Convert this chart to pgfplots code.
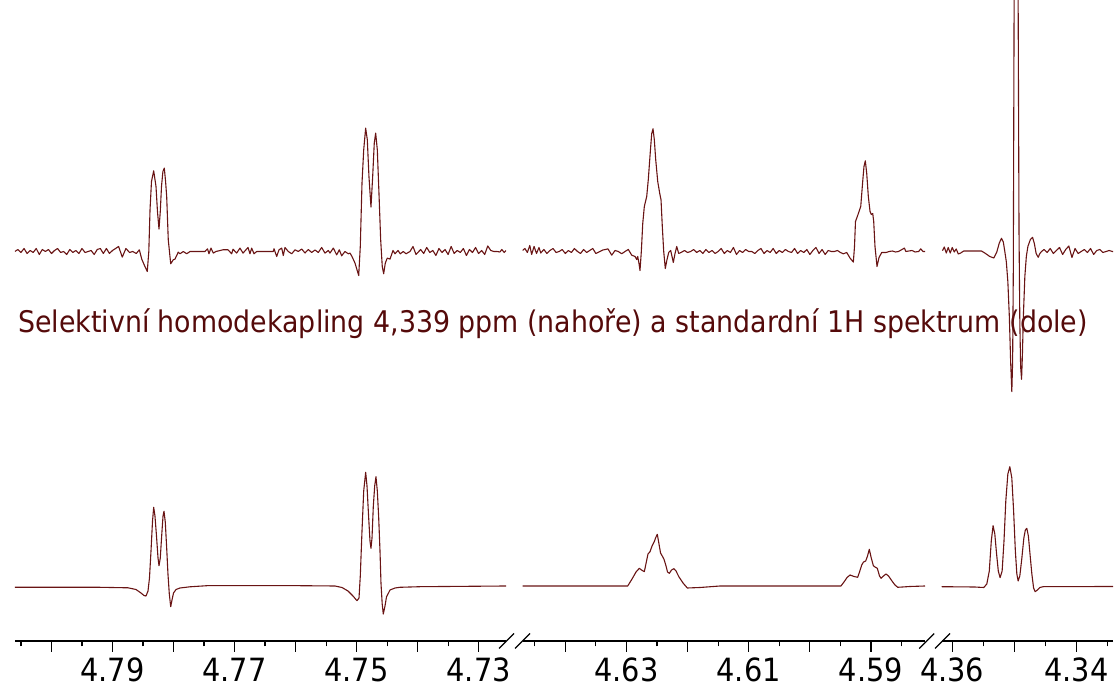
\documentclass[border=0pt]{standalone}
\usepackage{fontspec}
\setmainfont{DejaVu Sans}[FakeStretch=0.9]
\usepackage{pgfplots}
\pgfplotsset{compat=1.18}
\definecolor{spec}{RGB}{105,20,20}
\definecolor{titlecol}{RGB}{85,10,10}

\pgfplotsset{
  spec panel/.style={
    scale only axis, anchor=south west,
    height=641pt, ymin=-55, ymax=586,
    x dir=reverse,
    axis x line*=bottom, axis y line=none,
    tick align=outside,
    major tick length=11pt, minor tick length=5.5pt,
    tick style={black, line width=1.1pt},
    axis line style={black, line width=1.2pt},
    xticklabel style={font=\fontsize{32}{38}\selectfont, black, yshift=-5pt, inner sep=1pt},
    clip=true,
  },
  trace/.style={spec, line width=1.1pt, line join=round, mark=none},
}

\begin{document}
\begin{tikzpicture}
\useasboundingbox (0pt,0pt) rectangle (1115pt,692pt);

\node[anchor=base, text=titlecol, font=\fontsize{29.8}{35}\selectfont]
  at (553pt,359pt) {Selektivní homodekapling 4,339 ppm (nahoře) a standardní 1H spektrum (dole)};

% ---------- panel 1: 4.806 - 4.7255 ppm ----------
\begin{axis}[spec panel, at={(15pt,51pt)}, width=491pt,
  xmin=4.72551, xmax=4.80598,
  xtick={4.73,4.74,4.75,4.76,4.77,4.78,4.79,4.80},
  xticklabels={4.73,,4.75,,4.77,,4.79,},
  minor xtick={4.735,4.745,4.755,4.765,4.775,4.785,4.795,4.805}]
% top: decoupled
\addplot[trace] table[x index=0, y expr=\thisrowno{1}+334.5] {
4.8060 0
4.8055 2
4.8050 -1
4.8045 3
4.8040 -2
4.8035 1
4.8030 -1
4.8025 3
4.8020 -3
4.8015 2
4.8010 0
4.8005 2
4.8000 -2
4.7995 1
4.7990 3
4.7985 -1
4.7980 0
4.7975 -3
4.7970 2
4.7965 -1
4.7960 1
4.7955 -2
4.7950 3
4.7945 -1
4.7940 0
4.7935 1
4.7930 -3
4.7925 2
4.7920 3
4.7915 -2
4.7910 3
4.7905 -2
4.7900 1
4.7890 5
4.7884 -5.6
4.7878 3
4.7872 -1
4.7867 0
4.7861 -2
4.7856 1.7
4.78521 -7.6
4.78476 -14
4.78430 -20
4.78405 0
4.78385 41.7
4.78361 70
4.78325 80.7
4.78287 65
4.78263 40
4.78238 22.4
4.78217 40
4.78197 65
4.78174 80
4.78151 83.4
4.78130 70
4.78112 55
4.78086 11.7
4.78046 -12.3
4.78004 -8.3
4.77976 -7.6
4.77922 -0.6
4.77894 -2.3
4.77840 0
4.77784 -2.3
4.77730 0
4.77484 0
4.77443 2.7
4.77419 -2.3
4.77386 3.4
4.77348 -1.6
4.77304 0
4.77189 1.7
4.77107 1.7
4.77047 -2.3
4.77025 2.3
4.76965 -1.6
4.76911 3.4
4.76861 -1.6
4.76779 4
4.76747 -2.3
4.76719 3.4
4.76681 -2.3
4.76637 0
4.76365 0
4.76353 2.7
4.76309 -5
4.76271 1.7
4.76227 3.4
4.76201 -4
4.76173 4
4.76119 0
4.76063 -2.3
4.76009 1.7
4.75955 0
4.75899 2.5
4.75845 -1.5
4.75791 2
4.75736 -1
4.75681 1.5
4.75627 -1
4.75572 4
4.75518 -1.6
4.75463 1
4.75436 -1.6
4.75381 3.4
4.75326 -3.4
4.75283 1.7
4.75244 -4.3
4.75190 0
4.75136 -2.3
4.75108 -1.6
4.75075 -5
4.75026 -11.6
4.74993 -18.3
4.74965 -24
4.74939 5
4.74911 68.4
4.74883 101.7
4.74851 123.4
4.74824 111.7
4.74797 75
4.74764 44.4
4.74736 75
4.74710 108.4
4.74687 118.4
4.74660 101.7
4.74633 58.4
4.74605 11.7
4.74579 -15
4.74556 -22.3
4.74529 -11.6
4.74497 -6.6
4.74452 -7.6
4.74403 1
4.74370 -2.3
4.74321 1
4.74284 -2.3
4.74234 0
4.74190 -2.3
4.74125 0
4.74075 5
4.74026 -3
4.7395 2
4.7390 -2
4.7385 4
4.7380 -1
4.7375 1
4.7370 -4
4.7365 3
4.7360 -1
4.7355 2
4.7350 -3
4.7345 5
4.7340 -2
4.7335 1
4.7330 -1
4.7325 3
4.7320 -4
4.7315 2
4.7310 -1
4.7305 4
4.7300 -2
4.7295 1
4.7290 -3
4.7285 5.5
4.7280 1
4.7275 0
4.7270 0
4.7265 -0.5
4.7262 2
4.7258 -1
4.72551 1
};
% bottom: standard 1H
\addplot[trace] table {
4.80598 -1.3
4.79205 -1.3
4.78746 -1.8
4.78615 -3.5
4.78533 -7
4.78484 -9.5
4.78451 -10
4.78418 -5
4.78394 8
4.78369 35
4.78344 65
4.78325 78.7
4.78304 70
4.78279 50
4.78254 28
4.78238 20.3
4.78217 28
4.78192 52
4.78172 70
4.78156 74.7
4.78135 64
4.78112 38
4.78091 12
4.78069 -8
4.78046 -20.7
4.78025 -14
4.78000 -7
4.77959 -3.5
4.77894 -2
4.77730 -0.8
4.77451 0.3
4.75927 0.3
4.75354 0
4.75239 -1.5
4.75141 -5
4.75059 -10
4.74993 -14.7
4.74960 -12
4.74939 10
4.74911 55
4.74883 95
4.74851 113.7
4.74829 100
4.74805 72
4.74780 45
4.74764 37.7
4.74747 48
4.74726 79.3
4.74703 100
4.74682 109.3
4.74660 95
4.74638 69.3
4.74616 35
4.74600 3
4.74580 -18
4.74562 -28
4.74534 -20
4.74510 -11
4.74452 -4
4.74370 -2
4.74288 -1.3
4.73961 -0.7
4.72551 0
};
\end{axis}

% ---------- panel 2: 4.647 - 4.581 ppm ----------
\begin{axis}[spec panel, at={(522.7pt,51pt)}, width=402.3pt,
  xmin=4.58117, xmax=4.64696,
  xtick={4.59,4.60,4.61,4.62,4.63,4.64},
  xticklabels={4.59,,4.61,,4.63,},
  minor xtick={4.585,4.595,4.605,4.615,4.625,4.635,4.645}]
\addplot[trace] table[x index=0, y expr=\thisrowno{1}+334.5] {
4.6470 1
4.6466 3
4.6462 -1
4.6458 6
4.6455 -3
4.6451 5
4.6447 -2
4.6443 4
4.6440 -1.5
4.6435 2
4.6430 -2
4.6425 1
4.6420 3
4.6415 -1
4.6410 0
4.6405 2
4.6400 -2
4.6395 1
4.6390 -1
4.6385 3
4.6380 0
4.6375 -2
4.6370 2
4.6365 -1
4.6360 1
4.6355 3
4.6350 -2
4.63432 0
4.63383 1.5
4.63301 2.6
4.63240 -3.7
4.63186 1
4.63132 0
4.63077 -2.3
4.63023 0
4.62969 2
4.62913 -3.7
4.62859 -5
4.62832 -8
4.62815 -5
4.62794 -12
4.62778 -19
4.62756 0
4.62733 28
4.62707 45
4.62668 55
4.62642 72
4.62609 100
4.62586 118
4.62565 122.7
4.62544 112
4.62521 92
4.62488 70
4.62455 58
4.62434 51.7
4.62413 25
4.62390 0
4.62364 -17
4.62336 -8
4.62308 -1
4.62276 1
4.62254 -5
4.62233 -11
4.62205 -2
4.62177 5
4.62145 -2
4.62107 -1
4.6205 1
4.6200 -1
4.6195 0
4.6190 2
4.6185 -1
4.6180 1
4.6175 -2
4.6170 2
4.6165 -1
4.6160 1
4.6155 -2
4.6150 0
4.6145 3
4.6140 -2
4.6135 1
4.6130 -1
4.6125 4
4.6120 -3
4.6115 1
4.6110 -1
4.6105 2
4.6100 0
4.6095 0
4.6090 -2
4.6085 1
4.6080 3
4.6075 -2
4.6070 1
4.6065 -1
4.6060 3
4.6055 -2
4.6050 1
4.6045 -1
4.6040 2
4.6035 0
4.6030 -1
4.6025 3
4.6020 -2
4.6015 1
4.6010 -1
4.6005 2
4.6000 -3
4.5995 1
4.5990 4
4.5985 -2
4.5980 2
4.5975 -3
4.5970 1
4.5965 0
4.5960 0
4.5955 1
4.5950 -1
4.59453 -2.3
4.59397 -1
4.59343 -6.6
4.59289 -10.6
4.59270 5
4.59254 30
4.59224 35
4.59196 40
4.59168 45
4.59136 70
4.59115 85
4.59093 90.7
4.59070 78
4.59044 55
4.59016 40
4.58995 37
4.58972 38
4.58956 30
4.58935 5
4.58902 -15
4.58869 -6
4.58825 -1
4.58755 -1
4.5870 0
4.5865 0.5
4.5860 -0.5
4.5855 0
4.58454 3.4
4.5843 0
4.5833 1
4.5828 -0.5
4.5822 0
4.58187 2.7
4.5815 0
4.58117 0
};
\addplot[trace] table {
4.64696 0
4.62979 0
4.62908 7
4.62843 14
4.62789 17.7
4.62753 16
4.62707 14.3
4.62671 25
4.62647 32
4.62614 34.3
4.62581 40
4.62540 45
4.62524 48
4.62495 51.7
4.62467 42
4.62442 33
4.62423 31
4.62385 26.7
4.62352 20
4.62328 14
4.62298 12.7
4.62262 16
4.62222 17.3
4.62189 15
4.62140 9
4.62074 3
4.62004 -2
4.61796 -1.5
4.61469 0
4.59491 0
4.59442 4
4.59392 8.5
4.59343 11
4.59278 9.5
4.59218 8.7
4.59188 14
4.59152 21
4.59123 24
4.59087 25
4.59057 30
4.59028 36.7
4.59000 29
4.58962 20.3
4.58935 19
4.58897 17.7
4.58861 10
4.58836 7.7
4.58796 10
4.58755 12
4.58714 10
4.58657 5
4.58608 1
4.58563 -1.3
4.58362 -0.5
4.58117 0
};
\end{axis}

% ---------- panel 3: 4.3617 - 4.3341 ppm ----------
\begin{axis}[spec panel, at={(941.7pt,51pt)}, width=171.3pt,
  xmin=4.33408, xmax=4.36169,
  xtick={4.34,4.35,4.36},
  xticklabels={4.34,,4.36},
  minor xtick={4.335,4.345,4.355}]
\addplot[trace] table[x index=0, y expr=\thisrowno{1}+334.5] {
4.36157 0.8
4.36128 4.5
4.36096 -1.5
4.36064 4
4.36032 -1.5
4.35999 4
4.35967 -0.5
4.35935 2.5
4.35902 -2.5
4.35862 -1.5
4.35814 0.5
4.35636 0.5
4.35528 0.5
4.35475 -1.5
4.35394 -5
4.35329 -6.5
4.35281 -0.5
4.35241 8.5
4.35205 13.2
4.35176 9.5
4.35152 0
4.35128 -10
4.35103 -30
4.35079 -65
4.35058 -110
4.35039 -140.2
4.35026 -110
4.35015 -20
4.35002 251.5
4.34982 500
4.34958 500
4.34937 251.5
4.34923 20
4.34910 -70
4.34897 -115
4.34882 -127.8
4.34869 -105
4.34853 -65
4.34829 -25
4.34805 -5
4.34780 5
4.34740 12
4.34705 14.2
4.34676 8
4.34647 -2
4.34614 -5.8
4.34587 -2
4.34559 0
4.3452 2
4.3447 -1
4.3442 3
4.3437 -2
4.3432 1
4.3427 4
4.3422 -3
4.3417 2
4.3412 5.5
4.3407 -6
4.3402 3
4.3397 -2
4.3392 0
4.3387 2
4.3382 -1
4.3377 3
4.3372 -3
4.3367 1
4.3362 2
4.3357 -1
4.3352 0
4.3347 1
4.3342 0
4.33408 0
};
\addplot[trace] table {
4.36169 -0.7
4.35636 -1
4.35555 -1.3
4.35491 -1.5
4.35442 2
4.35402 15
4.35370 45
4.35341 60.3
4.35313 52
4.35286 33
4.35257 15
4.35228 8.3
4.35195 15
4.35165 45
4.35136 85
4.35103 112
4.35071 119.3
4.35039 108
4.35010 75
4.34982 35
4.34958 12
4.34937 5
4.34910 10
4.34877 28
4.34845 48
4.34821 56
4.34797 57.7
4.34772 50
4.34743 30
4.34716 12
4.34688 -2
4.34663 -5.7
4.34627 -4
4.34587 -1.5
4.34533 -0.7
4.33408 -0.5
};
\end{axis}

% axis break marks
\foreach \cx in {506.5,522.5,926.7,942.5}
  \draw[black, line width=1.2pt] (\cx pt-7.5pt,43.5pt) -- (\cx pt+7.5pt,58.5pt);
\end{tikzpicture}
\end{document}
